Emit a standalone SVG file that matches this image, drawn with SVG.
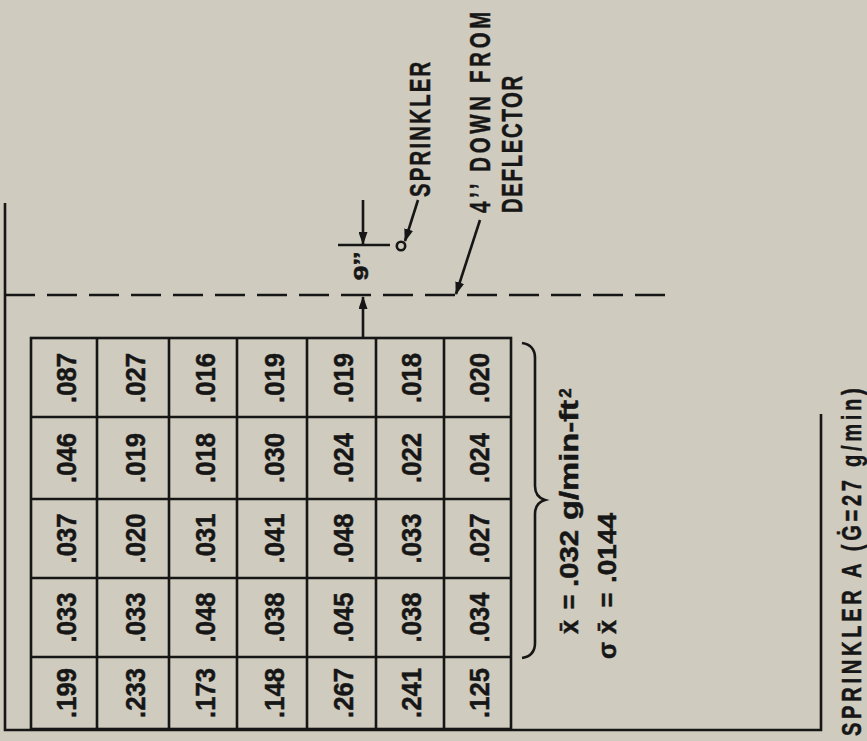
<svg xmlns="http://www.w3.org/2000/svg" width="867" height="741" viewBox="0 0 867 741">
  <style>
    .ln { stroke: #161616; stroke-width: 2.6; fill: none; stroke-linecap: butt; }
    .t { font-family: "Liberation Sans", "Noto Sans", Arial, sans-serif; font-weight: bold; fill: #161616; stroke: #161616; stroke-width: 0.5; }
    .cell { font-size: 28px; text-anchor: middle; }
    .lbl { font-size: 30px; }
    .st { font-size: 25px; text-anchor: middle; }
  </style>
  <defs>
    <marker id="ah" markerUnits="userSpaceOnUse" markerWidth="13" markerHeight="9" refX="12" refY="4.5" orient="auto">
      <path d="M0,0 L13,4.5 L0,9 z" fill="#161616"/>
    </marker>
  </defs>
  <rect width="867" height="741" fill="#cfcbbe"/>

  <g id="frame">
    <path class="ln" d="M5,203 V730 H821 V414"/>
    <line class="ln" x1="5" y1="295" x2="670" y2="295" stroke-dasharray="30 12"/>
  </g>

  <g id="grid">
    <rect class="ln" x="31" y="338" width="480" height="391"/>
    <path class="ln" d="M97,338 V729 M169,338 V729 M237,338 V729 M307,338 V729 M376,338 V729 M444,338 V729"/>
    <path class="ln" d="M31,417 H511 M31,499 H511 M31,578 H511 M31,657 H511"/>
    <g id="cells">
      <text class="t cell" transform="translate(76,378) rotate(-90)" textLength="50" lengthAdjust="spacingAndGlyphs">.087</text>
      <text class="t cell" transform="translate(76,458) rotate(-90)" textLength="50" lengthAdjust="spacingAndGlyphs">.046</text>
      <text class="t cell" transform="translate(76,538.5) rotate(-90)" textLength="50" lengthAdjust="spacingAndGlyphs">.037</text>
      <text class="t cell" transform="translate(76,617.5) rotate(-90)" textLength="50" lengthAdjust="spacingAndGlyphs">.033</text>
      <text class="t cell" transform="translate(76,693) rotate(-90)" textLength="50" lengthAdjust="spacingAndGlyphs">.199</text>
      <text class="t cell" transform="translate(145,378) rotate(-90)" textLength="50" lengthAdjust="spacingAndGlyphs">.027</text>
      <text class="t cell" transform="translate(145,458) rotate(-90)" textLength="50" lengthAdjust="spacingAndGlyphs">.019</text>
      <text class="t cell" transform="translate(145,538.5) rotate(-90)" textLength="50" lengthAdjust="spacingAndGlyphs">.020</text>
      <text class="t cell" transform="translate(145,617.5) rotate(-90)" textLength="50" lengthAdjust="spacingAndGlyphs">.033</text>
      <text class="t cell" transform="translate(145,693) rotate(-90)" textLength="50" lengthAdjust="spacingAndGlyphs">.233</text>
      <text class="t cell" transform="translate(215,378) rotate(-90)" textLength="50" lengthAdjust="spacingAndGlyphs">.016</text>
      <text class="t cell" transform="translate(215,458) rotate(-90)" textLength="50" lengthAdjust="spacingAndGlyphs">.018</text>
      <text class="t cell" transform="translate(215,538.5) rotate(-90)" textLength="50" lengthAdjust="spacingAndGlyphs">.031</text>
      <text class="t cell" transform="translate(215,617.5) rotate(-90)" textLength="50" lengthAdjust="spacingAndGlyphs">.048</text>
      <text class="t cell" transform="translate(215,693) rotate(-90)" textLength="50" lengthAdjust="spacingAndGlyphs">.173</text>
      <text class="t cell" transform="translate(284,378) rotate(-90)" textLength="50" lengthAdjust="spacingAndGlyphs">.019</text>
      <text class="t cell" transform="translate(284,458) rotate(-90)" textLength="50" lengthAdjust="spacingAndGlyphs">.030</text>
      <text class="t cell" transform="translate(284,538.5) rotate(-90)" textLength="50" lengthAdjust="spacingAndGlyphs">.041</text>
      <text class="t cell" transform="translate(284,617.5) rotate(-90)" textLength="50" lengthAdjust="spacingAndGlyphs">.038</text>
      <text class="t cell" transform="translate(284,693) rotate(-90)" textLength="50" lengthAdjust="spacingAndGlyphs">.148</text>
      <text class="t cell" transform="translate(353,378) rotate(-90)" textLength="50" lengthAdjust="spacingAndGlyphs">.019</text>
      <text class="t cell" transform="translate(353,458) rotate(-90)" textLength="50" lengthAdjust="spacingAndGlyphs">.024</text>
      <text class="t cell" transform="translate(353,538.5) rotate(-90)" textLength="50" lengthAdjust="spacingAndGlyphs">.048</text>
      <text class="t cell" transform="translate(353,617.5) rotate(-90)" textLength="50" lengthAdjust="spacingAndGlyphs">.045</text>
      <text class="t cell" transform="translate(353,693) rotate(-90)" textLength="50" lengthAdjust="spacingAndGlyphs">.267</text>
      <text class="t cell" transform="translate(421,378) rotate(-90)" textLength="50" lengthAdjust="spacingAndGlyphs">.018</text>
      <text class="t cell" transform="translate(421,458) rotate(-90)" textLength="50" lengthAdjust="spacingAndGlyphs">.022</text>
      <text class="t cell" transform="translate(421,538.5) rotate(-90)" textLength="50" lengthAdjust="spacingAndGlyphs">.033</text>
      <text class="t cell" transform="translate(421,617.5) rotate(-90)" textLength="50" lengthAdjust="spacingAndGlyphs">.038</text>
      <text class="t cell" transform="translate(421,693) rotate(-90)" textLength="50" lengthAdjust="spacingAndGlyphs">.241</text>
      <text class="t cell" transform="translate(489,378) rotate(-90)" textLength="50" lengthAdjust="spacingAndGlyphs">.020</text>
      <text class="t cell" transform="translate(489,458) rotate(-90)" textLength="50" lengthAdjust="spacingAndGlyphs">.024</text>
      <text class="t cell" transform="translate(489,538.5) rotate(-90)" textLength="50" lengthAdjust="spacingAndGlyphs">.027</text>
      <text class="t cell" transform="translate(489,617.5) rotate(-90)" textLength="50" lengthAdjust="spacingAndGlyphs">.034</text>
      <text class="t cell" transform="translate(489,693) rotate(-90)" textLength="50" lengthAdjust="spacingAndGlyphs">.125</text>
    </g>
  </g>

  <g id="sprinkler">
    <line class="ln" x1="338" y1="245" x2="390" y2="245"/>
    <circle class="ln" cx="401" cy="246" r="4.2"/>
  </g>

  <g id="connectors">
    <line class="ln" x1="363" y1="200" x2="363" y2="244" marker-end="url(#ah)"/>
    <line class="ln" x1="363" y1="337" x2="363" y2="297" marker-end="url(#ah)"/>
    <line class="ln" x1="418" y1="200" x2="405" y2="241" marker-end="url(#ah)"/>
    <line class="ln" x1="480" y1="220" x2="456" y2="294" marker-end="url(#ah)"/>
    <path class="ln" d="M522,343 Q535,345 535,358 L535,486 Q535,497 545,500 Q535,503 535,514 L535,643 Q535,656 522,658"/>
  </g>

  <g id="labels">
    <text class="t" font-size="21" transform="translate(368,266) rotate(-90)" text-anchor="middle" textLength="29" lengthAdjust="spacingAndGlyphs">9’’</text>
    <text class="t lbl" transform="translate(430,197) rotate(-90) scale(0.68,1)" textLength="199" lengthAdjust="spacing">SPRINKLER</text>
    <text class="t lbl" transform="translate(490,213) rotate(-90) scale(0.68,1)" textLength="296" lengthAdjust="spacing">4’’ DOWN FROM</text>
    <text class="t lbl" transform="translate(522,213) rotate(-90) scale(0.68,1)" textLength="202" lengthAdjust="spacing">DEFLECTOR</text>
  </g>

  <g id="stats">
    <text class="t st" transform="translate(578,627) rotate(-90)">x̄</text>
    <text class="t st" transform="translate(578,602) rotate(-90)">=</text>
    <text class="t st" transform="translate(578,558.5) rotate(-90)" textLength="57" lengthAdjust="spacingAndGlyphs">.032</text>
    <text class="t st" transform="translate(578,460) rotate(-90)" textLength="120" lengthAdjust="spacingAndGlyphs">g/min-ft</text>
    <text class="t" font-size="17" transform="translate(571,393) rotate(-90)" text-anchor="middle">2</text>
    <text class="t st" transform="translate(616,650.5) rotate(-90)">σ</text>
    <text class="t st" transform="translate(616,627) rotate(-90)">x̄</text>
    <text class="t st" transform="translate(616,600) rotate(-90)">=</text>
    <text class="t st" transform="translate(616,548) rotate(-90)" textLength="70" lengthAdjust="spacingAndGlyphs">.0144</text>
  </g>

  <g id="caption">
    <text class="t" font-size="28" transform="translate(861,736) rotate(-90) scale(0.72,1)" textLength="483" lengthAdjust="spacing">SPRINKLER A (Ġ=27 g/min)</text>
  </g>
</svg>
